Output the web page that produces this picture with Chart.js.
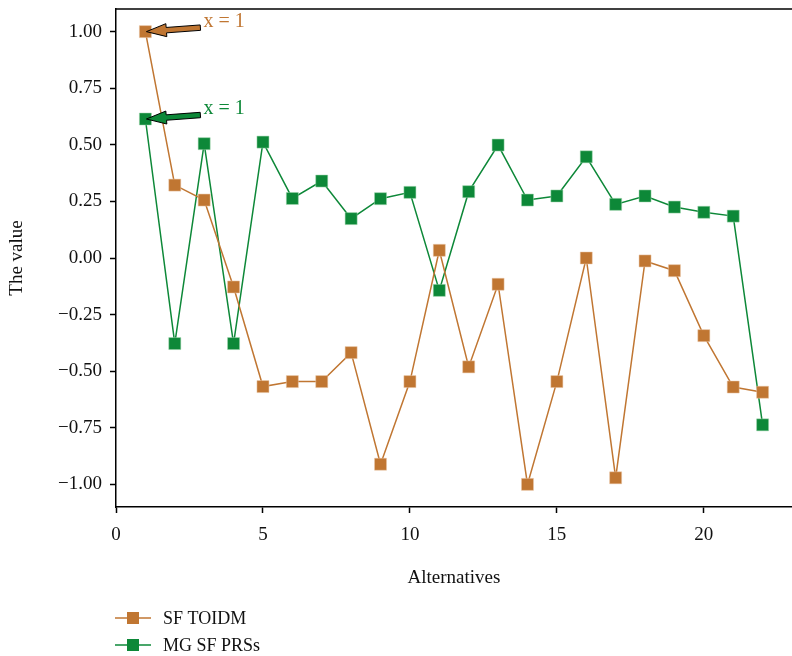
<!DOCTYPE html>
<html>
<head>
<meta charset="utf-8">
<script src="https://cdn.jsdelivr.net/npm/chart.js@4/dist/chart.umd.min.js"></script>
<style>
  html, body { margin: 0; padding: 0; background: #fff; }
  #wrap { width: 792px; height: 656px; }
</style>
</head>
<body>
<div id="wrap"><canvas id="chart" width="792" height="656"></canvas></div>
<script>
// data
var alternatives = [1, 2, 3, 4, 5, 6, 7, 8, 9, 10, 11, 12, 13, 14, 15, 16, 17, 18, 19, 20, 21, 22];
var sfToidm = [1.00, 0.322, 0.256, -0.128, -0.568, -0.546, -0.546, -0.418, -0.911, -0.546, 0.034,
               -0.481, -0.116, -1.00, -0.546, 0.00, -0.971, -0.013, -0.056, -0.343, -0.570, -0.593];
var mgSfPrss = [0.614, -0.378, 0.505, -0.378, 0.512, 0.263, 0.340, 0.174, 0.262, 0.290, -0.143,
                0.293, 0.499, 0.256, 0.274, 0.447, 0.237, 0.274, 0.225, 0.202, 0.185, -0.737];
var seriesNames = ['SF TOIDM', 'MG SF PRSs'];
var xTicks = [0, 5, 10, 15, 20];
var yTicks = [-1.00, -0.75, -0.50, -0.25, 0.00, 0.25, 0.50, 0.75, 1.00];

var ORANGE = 'rgb(192, 118, 50)';
var GREEN = 'rgb(13, 136, 56)';
var FONT = '"Liberation Serif", "DejaVu Serif", serif';
var FSIZE = 19;

function toPoints(ys) {
    return ys.map(function (y, i) { return { x: alternatives[i], y: y }; });
}

function drawArrow(ctx, tx, ty, px, py, fill) {
    var dx = px - tx, dy = py - ty;
    var len = Math.sqrt(dx * dx + dy * dy);
    var ux = dx / len, uy = dy / len;
    var nx = -uy, ny = ux;
    var hs = 2.7, hh = 6.5, hl = 20;
    var bx = px - ux * hl, by = py - uy * hl;
    ctx.save();
    ctx.beginPath();
    ctx.moveTo(tx + nx * hs, ty + ny * hs);
    ctx.lineTo(bx + nx * hs, by + ny * hs);
    ctx.lineTo(bx + nx * hh, by + ny * hh);
    ctx.lineTo(px, py);
    ctx.lineTo(bx - nx * hh, by - ny * hh);
    ctx.lineTo(bx - nx * hs, by - ny * hs);
    ctx.lineTo(tx - nx * hs, ty - ny * hs);
    ctx.closePath();
    ctx.fillStyle = fill;
    ctx.fill();
    ctx.lineWidth = 1;
    ctx.strokeStyle = '#000';
    ctx.stroke();
    ctx.restore();
}

var extras = {
    id: 'extras',
    afterDatasetsDraw: function (chart) {
        var ctx = chart.ctx;
        var xs = chart.scales.x, ys = chart.scales.y;
        var area = chart.chartArea;

        // top spine
        ctx.save();
        ctx.strokeStyle = '#000';
        ctx.lineWidth = 1.5;
        ctx.beginPath();
        ctx.moveTo(area.left, area.top);
        ctx.lineTo(area.right, area.top);
        ctx.stroke();
        ctx.restore();

        // "x = 1" annotations
        chart.data.datasets.forEach(function (ds) {
            var p = ds.data[0];
            var px = xs.getPixelForValue(p.x) + 1;
            var py = ys.getPixelForValue(p.y);
            var tx = px + 54, ty = py - 4;
            drawArrow(ctx, tx, ty, px, py, ds.borderColor);
            ctx.save();
            ctx.fillStyle = ds.borderColor;
            ctx.font = '20px ' + FONT;
            ctx.textBaseline = 'alphabetic';
            ctx.textAlign = 'left';
            ctx.fillText('x = 1', tx + 3, ty - 1);
            ctx.restore();
        });

        // legend, stacked at bottom left
        chart.data.datasets.forEach(function (ds, i) {
            var cy = 618 + i * 27;
            ctx.save();
            ctx.strokeStyle = ds.borderColor;
            ctx.lineWidth = 1.5;
            ctx.beginPath();
            ctx.moveTo(115, cy);
            ctx.lineTo(151, cy);
            ctx.stroke();
            ctx.fillStyle = ds.borderColor;
            ctx.fillRect(127, cy - 6, 12, 12);
            ctx.fillStyle = '#111';
            ctx.font = '18px ' + FONT;
            ctx.textBaseline = 'middle';
            ctx.fillText(ds.label, 163, cy + 1);
            ctx.restore();
        });
    }
};

var ctx = document.getElementById('chart').getContext('2d');
var chart = new Chart(ctx, {
    type: 'line',
    data: {
        datasets: [
            {
                label: seriesNames[0],
                data: toPoints(sfToidm),
                borderColor: ORANGE,
                backgroundColor: ORANGE,
                borderWidth: 1.5,
                pointStyle: 'rect',
                pointRadius: 8.5,
                pointBorderWidth: 0.5,
                pointBorderColor: 'rgba(235, 200, 170, 1)',
                tension: 0
            },
            {
                label: seriesNames[1],
                data: toPoints(mgSfPrss),
                borderColor: GREEN,
                backgroundColor: GREEN,
                borderWidth: 1.5,
                pointStyle: 'rect',
                pointRadius: 8.5,
                pointBorderWidth: 0.5,
                pointBorderColor: 'rgba(160, 215, 175, 1)',
                tension: 0
            }
        ]
    },
    options: {
        responsive: false,
        animation: false,
        layout: { autoPadding: false, padding: { top: 9, right: 0, left: 0, bottom: 59 } },
        plugins: {
            legend: { display: false },
            tooltip: { enabled: false }
        },
        scales: {
            x: {
                type: 'linear',
                min: 0,
                max: 23,
                afterBuildTicks: function (scale) {
                    scale.ticks = xTicks.map(function (v) { return { value: v }; });
                },
                afterFit: function (scale) {
                    scale.height = 90;
                    scale.paddingLeft = 0;
                    scale.paddingRight = 0;
                },
                border: { display: true, color: '#000', width: 1.5 },
                grid: { drawOnChartArea: false, tickLength: 6, tickColor: '#000', tickWidth: 1.5 },
                ticks: {
                    color: '#111',
                    font: { family: FONT, size: FSIZE },
                    padding: 11,
                    maxRotation: 0
                },
                title: {
                    display: true,
                    text: 'Alternatives',
                    color: '#111',
                    font: { family: FONT, size: FSIZE },
                    padding: { top: 0, bottom: 8 }
                }
            },
            y: {
                type: 'linear',
                min: -1.1,
                max: 1.1,
                afterBuildTicks: function (scale) {
                    scale.ticks = yTicks.map(function (v) { return { value: v }; });
                },
                afterFit: function (scale) {
                    scale.width = 116;
                    scale.paddingTop = 0;
                    scale.paddingBottom = 0;
                },
                border: { display: true, color: '#000', width: 1.5 },
                grid: { drawOnChartArea: false, tickLength: 6, tickColor: '#000', tickWidth: 1.5 },
                ticks: {
                    color: '#111',
                    font: { family: FONT, size: FSIZE },
                    padding: 8,
                    callback: function (v) {
                        var s = Math.abs(v).toFixed(2);
                        return v < 0 ? '\u2212' + s : s;
                    }
                },
                title: {
                    display: true,
                    text: 'The value',
                    color: '#111',
                    font: { family: FONT, size: FSIZE },
                    padding: { top: 6, bottom: 0 }
                }
            }
        }
    },
    plugins: [extras]
});
</script>
</body>
</html>
